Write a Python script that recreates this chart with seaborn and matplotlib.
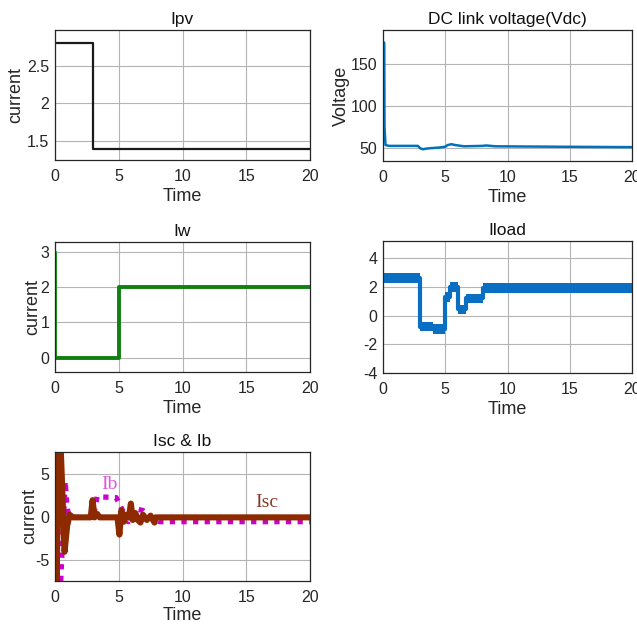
import numpy as np
import pandas as pd
import matplotlib
matplotlib.use("Agg")
import matplotlib.pyplot as plt
import seaborn as sns

# ---------------- data ----------------
t_ipv = [0, 3, 3, 20]
ipv = [2.8, 2.8, 1.4, 1.4]

t_vdc = [0.05, 0.1, 0.12, 0.2, 0.5, 2.8, 3.0, 3.2, 3.6, 4.5, 5.0, 5.2, 5.5, 5.8, 6.5, 8.0, 8.3, 9.0, 14.0, 20.0]
vdc = [175, 175, 75, 53, 52, 52, 49, 48, 49, 50, 51, 53, 54, 53, 51.5, 52, 52.5, 51.5, 51, 50.5]

t_iw0 = [0.06, 0.06]
iw0 = [3.0, 0.0]
t_iw = [0.06, 5, 5, 20]
iw = [0, 0, 2, 2]

load_edges = [0.05, 3, 4, 5, 5.4, 6, 6.7, 8, 20]
load_lo = [2.3, -1.1, -1.25, 0.95, 1.65, 0.1, 0.9, 1.6]
load_hi = [3.0, -0.45, -0.6, 1.65, 2.35, 0.77, 1.5, 2.3]
t_load_spike = [0.04, 0.04]
load_spike = [-0.2, 5.2]

t_isc = [0.0, 0.12, 0.3, 0.45, 0.75, 0.95, 1.15, 1.4, 2.8, 2.95, 3.1, 3.3, 3.5, 4.9, 5.05, 5.2, 5.4, 5.6, 5.8, 5.95, 6.1, 6.3, 6.5, 6.7, 6.9, 7.2, 7.5, 7.8, 7.9, 8.1, 20]
isc = [8.0, -7.6, 8.0, 8.0, -4.0, -1.0, 0.3, 0.0, 0.0, 2.0, 0.0, 0.4, 0.0, 0.0, -2.0, 0.8, -0.5, 0.3, 0.0, 1.6, -0.3, 0.5, -0.3, -0.6, 0.3, -0.3, 0.2, -0.6, 0.0, 0.0, 0.0]

t_ib = [0.45, 0.55, 0.8, 0.95, 1.1, 1.5, 3.0, 3.3, 4.8, 5.2, 5.75, 6.3, 6.9, 7.5, 8.2, 20]
ib = [-7.4, -4.0, 4.2, 1.0, 0.3, 0.0, 0.0, 2.4, 2.3, 1.1, -0.5, 1.0, 0.8, 0.0, -0.5, -0.5]

xticks = [0, 5, 10, 15, 20]

# ---------------- style ----------------
sns.set_theme(style="white")
plt.rcParams["font.family"] = ["Liberation Sans", "DejaVu Sans"]
plt.rcParams["axes.unicode_minus"] = False
plt.rcParams["axes.edgecolor"] = "#262626"
plt.rcParams["xtick.color"] = "#262626"
plt.rcParams["ytick.color"] = "#262626"
plt.rcParams["text.color"] = "#111111"

W, H = 637, 624
fig = plt.figure(figsize=(W / 100, H / 100), dpi=100)
fig.patch.set_facecolor("white")


def make_ax(l, r, t, b):
    return fig.add_axes([l / W, 1 - b / H, (r - l) / W, (b - t) / H])


def style(ax, title, ylabel, ylim, yticks, ypad, xpad=3):
    ax.set_xlim(0, 20)
    ax.set_ylim(*ylim)
    ax.set_xticks(xticks)
    ax.set_yticks(yticks)
    ax.grid(True, color="#b4b4b4", lw=0.8)
    ax.set_axisbelow(True)
    ax.tick_params(direction="in", length=3, width=0.6, labelsize=11.5, pad=4)
    ax.tick_params(axis="x", pad=6.5)
    ax.set_title(title, fontsize=12.5, pad=4)
    ax.set_xlabel("Time", fontsize=13, labelpad=xpad)
    if ylabel:
        ax.set_ylabel(ylabel, fontsize=13, labelpad=ypad)
    else:
        ax.set_ylabel("")
    for s in ax.spines.values():
        s.set_linewidth(0.9)


# Ipv
ax1 = make_ax(55, 310, 30, 160)
sns.lineplot(x=t_ipv, y=ipv, ax=ax1, sort=False, estimator=None, color="#1a1a1a", lw=1.6)
style(ax1, "Ipv", "current", (1.25, 2.97), [1.5, 2, 2.5], 1.8)
ax1.set_yticklabels(["1.5", "2", "2.5"])

# Vdc
ax2 = make_ax(383, 632, 30, 161)
sns.lineplot(x=t_vdc, y=vdc, ax=ax2, sort=False, estimator=None, color="#0072BD", lw=1.8)
style(ax2, "DC link voltage(Vdc)", "Voltage", (34, 190), [50, 100, 150], 0.5)

# Iw
ax3 = make_ax(55, 310, 242, 372)
sns.lineplot(x=t_iw0, y=iw0, ax=ax3, sort=False, estimator=None, color="#119911", lw=1.4)
sns.lineplot(x=t_iw, y=iw, ax=ax3, sort=False, estimator=None, color="#108010", lw=2.8)
style(ax3, "Iw", "current", (-0.4, 3.27), [0, 1, 2, 3], -0.5)

# Iload
ax4 = make_ax(383, 632, 241, 373)
lo = load_lo + [load_lo[-1]]
hi = load_hi + [load_hi[-1]]
mid = [(a + b) / 2 for a, b in zip(lo, hi)]
ax4.fill_between(load_edges, lo, hi, step="post", color="#0a6fc2", lw=0)
ax4.plot(load_edges, mid, drawstyle="steps-post", color="#0a6fc2", lw=3.0)
sns.lineplot(x=t_load_spike, y=load_spike, ax=ax4, sort=False, estimator=None, color="#0a6fc2", lw=1.2)
style(ax4, "Iload", None, (-4, 5.2), [-4, -2, 0, 2, 4], 0)

# Isc & Ib
ax5 = make_ax(55, 310, 452, 581)
sns.lineplot(x=t_ib, y=ib, ax=ax5, sort=False, estimator=None, color="#cc00cc", lw=3.8,
             linestyle=(0, (1, 1.2)))
sns.lineplot(x=t_isc, y=isc, ax=ax5, sort=False, estimator=None, color="#8e2a00", lw=4.4)
style(ax5, "Isc & Ib", "current", (-7.4, 7.6), [-5, 0, 5], -2, xpad=1.5)
ax5.text(4.3, 3.8, "Ib", color="#e055e0", fontsize=14, family=["Liberation Serif", "DejaVu Serif"],
         ha="center", va="center")
ax5.text(16.6, 1.7, "Isc", color="#8b3a2a", fontsize=14, family=["Liberation Serif", "DejaVu Serif"],
         ha="center", va="center")

fig.savefig("out.png", dpi=100, facecolor="white")
